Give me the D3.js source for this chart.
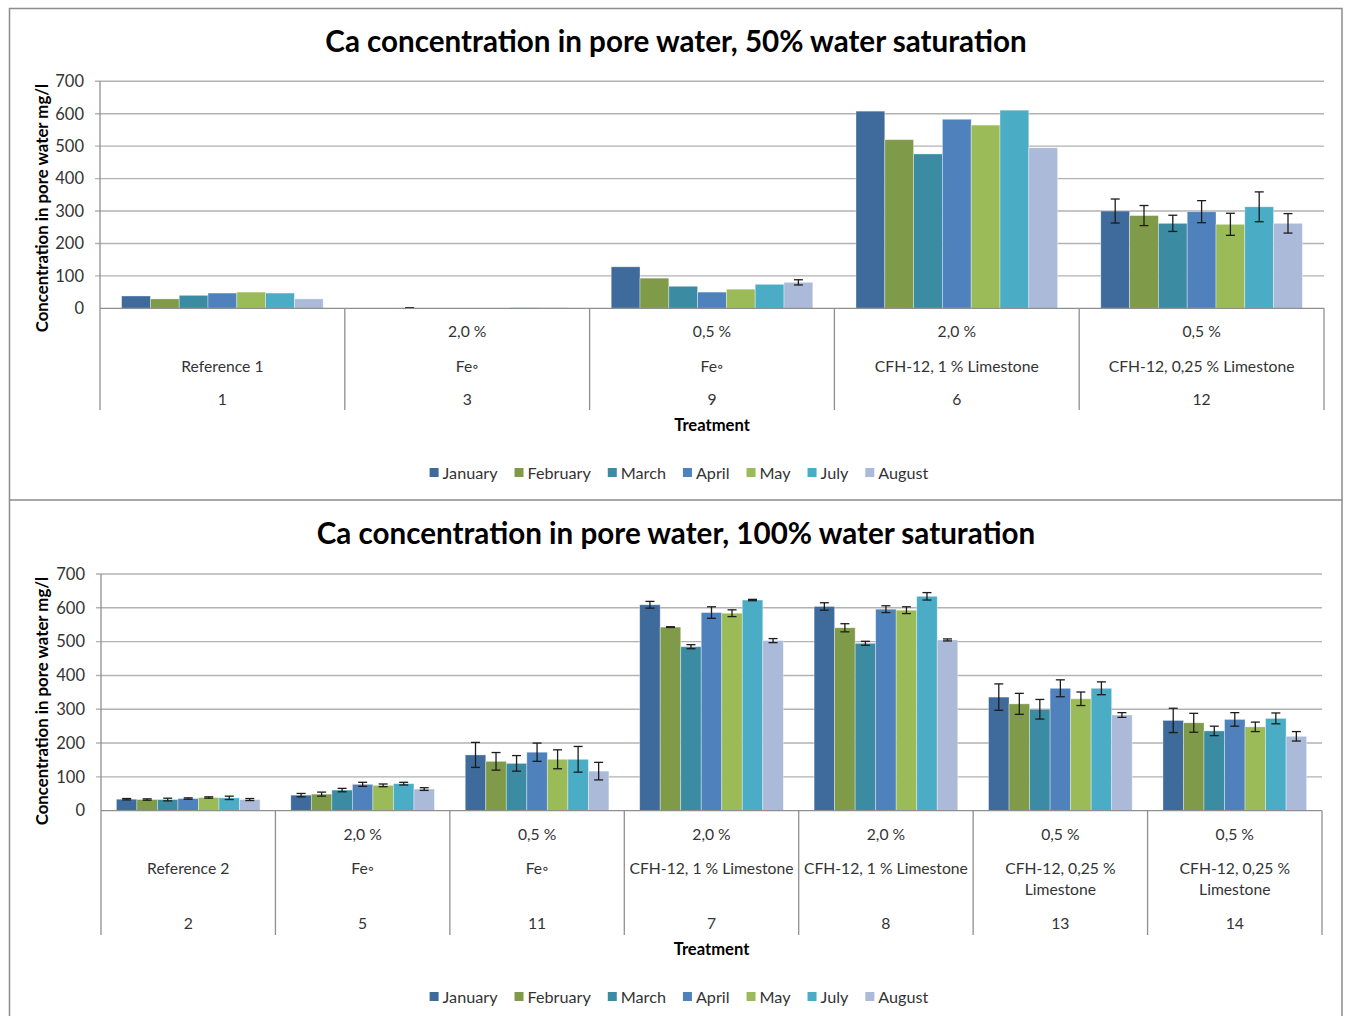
<!DOCTYPE html>
<html>
<head>
<meta charset="utf-8">
<script src="https://cdn.jsdelivr.net/npm/d3@7"></script>
<style>
  body { margin: 0; background: #fff; }
  svg { display: block; }
  text { font-family: Lato, "Open Sans", sans-serif; }
</style>
</head>
<body>
<svg id="chart" width="1348" height="1016"></svg>
<script>
// ---- shared series definitions ----
const months = ["January", "February", "March", "April", "May", "July", "August"];
const monthColors = ["#3f6a9c", "#7f9a48", "#3b8ba2", "#4f81bd", "#9bbb59", "#4bacc6", "#aabad8"];
const yTicks = [0, 100, 200, 300, 400, 500, 600, 700];

// ---- 50 % water saturation ----
const sat50Dose = ["", "2,0 %", "0,5 %", "2,0 %", "0,5 %"];
const sat50Treatment = [["Reference 1"], ["Fe\u25E6"], ["Fe\u25E6"], ["CFH-12, 1 % Limestone"], ["CFH-12, 0,25 % Limestone"]];
const sat50Id = ["1", "3", "9", "6", "12"];
const sat50Jan = [38, 0, 128, 608, 300];
const sat50Feb = [29, 1, 93, 520, 286];
const sat50Mar = [40, 0, 68, 476, 262];
const sat50Apr = [47, 0, 50, 583, 298];
const sat50May = [50, 0, 59, 565, 259];
const sat50Jul = [47, 2, 74, 611, 313];
const sat50Aug = [29, 2, 80, 495, 262];
// standard deviation per bar (null = no error bar)
const sat50JanErr = [null, null, null, null, 37];
const sat50FebErr = [null, 1, null, null, 31];
const sat50MarErr = [null, null, null, null, 25];
const sat50AprErr = [null, null, null, null, 34];
const sat50MayErr = [null, null, null, null, 34];
const sat50JulErr = [null, null, null, null, 46];
const sat50AugErr = [null, null, 8, null, 30];

// ---- 100 % water saturation ----
const sat100Dose = ["", "2,0 %", "0,5 %", "2,0 %", "2,0 %", "0,5 %", "0,5 %"];
const sat100Treatment = [["Reference 2"], ["Fe\u25E6"], ["Fe\u25E6"], ["CFH-12, 1 % Limestone"], ["CFH-12, 1 % Limestone"], ["CFH-12, 0,25 %", "Limestone"], ["CFH-12, 0,25 %", "Limestone"]];
const sat100Id = ["2", "5", "11", "7", "8", "13", "14"];
const sat100Jan = [34, 46, 165, 609, 604, 336, 267];
const sat100Feb = [33, 49, 146, 543, 541, 316, 260];
const sat100Mar = [33, 61, 140, 485, 495, 300, 236];
const sat100Apr = [36, 78, 173, 586, 596, 362, 270];
const sat100May = [39, 75, 152, 584, 593, 331, 248];
const sat100Jul = [38, 80, 152, 623, 634, 362, 273];
const sat100Aug = [33, 64, 117, 503, 505, 283, 220];
const sat100JanErr = [2, 5, 37, 10, 11, 39, 36];
const sat100FebErr = [2, 6, 26, 1, 12, 31, 28];
const sat100MarErr = [4, 5, 23, 6, 6, 29, 14];
const sat100AprErr = [2, 6, 27, 17, 10, 25, 20];
const sat100MayErr = [2, 4, 28, 10, 10, 20, 14];
const sat100JulErr = [5, 4, 38, 2, 11, 19, 16];
const sat100AugErr = [3, 4, 26, 6, 3, 7, 14];

const svg = d3.select("#chart");

// outer frames of the two chart panels
const frame = svg.append("g").attr("fill", "none").attr("stroke", "#8c8c8c").attr("stroke-width", 1.5);
frame.append("rect").attr("x", 9.5).attr("y", 8.5).attr("width", 1332.5).attr("height", 491.5);
frame.append("path").attr("d", "M9.5,500 V1017 M1342,500 V1017");

function drawPanel(cfg) {
  const g = svg.append("g");
  const ids = cfg.ids;
  const x0 = d3.scaleBand().domain(d3.range(ids.length)).range([cfg.left, cfg.right]).paddingInner(0).paddingOuter(0);
  const x1 = d3.scaleBand().domain(months).range([0, x0.bandwidth()]).paddingInner(0).paddingOuter(0.75);
  const y = d3.scaleLinear().domain([0, 700]).range([cfg.zeroY, cfg.topY]);

  // title
  g.append("text")
    .attr("x", cfg.titleX).attr("y", cfg.titleY)
    .attr("text-anchor", "middle")
    .attr("font-size", 29.6).attr("font-weight", 700).attr("fill", "#000")
    .text(cfg.title);

  // horizontal gridlines with short outer ticks
  g.append("g").selectAll("line").data(yTicks.filter(v => v > 0)).join("line")
    .attr("x1", cfg.left - 5).attr("x2", cfg.right)
    .attr("y1", d => y(d)).attr("y2", d => y(d))
    .attr("stroke", "#b2b2b2").attr("stroke-width", 1.4);

  // value axis labels
  const yAxis = g.append("g")
    .attr("transform", `translate(${cfg.left},0)`)
    .call(d3.axisLeft(y).tickValues(yTicks).tickSize(0).tickPadding(16));
  yAxis.select(".domain").remove();
  yAxis.selectAll("text").attr("font-size", 16.5).attr("fill", "#333").attr("font-family", "Lato, sans-serif");

  // value axis title
  g.append("text")
    .attr("transform", `translate(${cfg.yLabelX},${cfg.yLabelY}) rotate(-90)`)
    .attr("text-anchor", "middle")
    .attr("font-size", 16.8).attr("font-weight", 700).attr("fill", "#000")
    .text("Concentration in pore water mg/l");

  // bars
  const groups = g.append("g").selectAll("g").data(ids.map((id, i) => i)).join("g")
    .attr("transform", i => `translate(${x0(i)},0)`);
  groups.selectAll("rect")
    .data(i => months.map((m, k) => ({ m, k, v: cfg.values[k][i] })))
    .join("rect")
    .attr("x", d => x1(d.m)).attr("width", x1.bandwidth())
    .attr("y", d => y(d.v)).attr("height", d => y(0) - y(d.v))
    .attr("fill", d => monthColors[d.k])
    .attr("stroke", "rgba(255,255,255,0.45)").attr("stroke-width", 0.8);

  // error bars
  const errs = [];
  ids.forEach((id, i) => months.forEach((m, k) => {
    const e = cfg.errors[k][i];
    if (e != null) errs.push({ cx: x0(i) + x1(m) + x1.bandwidth() / 2, v: cfg.values[k][i], e });
  }));
  const eb = g.append("g").attr("stroke", "#1c1c1c").attr("stroke-width", 1.3).selectAll("g").data(errs).join("g");
  eb.append("line").attr("x1", d => d.cx).attr("x2", d => d.cx)
    .attr("y1", d => y(d.v + d.e)).attr("y2", d => y(Math.max(0, d.v - d.e)));
  eb.append("line").attr("x1", d => d.cx - 4.5).attr("x2", d => d.cx + 4.5)
    .attr("y1", d => y(d.v + d.e)).attr("y2", d => y(d.v + d.e));
  eb.append("line").attr("x1", d => d.cx - 4.5).attr("x2", d => d.cx + 4.5)
    .attr("y1", d => y(Math.max(0, d.v - d.e))).attr("y2", d => y(Math.max(0, d.v - d.e)));

  // category axis line, left axis line and separators
  const ax = g.append("g").attr("stroke", "#8f8f8f").attr("stroke-width", 1.3);
  ax.append("line").attr("x1", cfg.left).attr("x2", cfg.right).attr("y1", y(0)).attr("y2", y(0));
  ax.append("line").attr("x1", cfg.left).attr("x2", cfg.left).attr("y1", y(700)).attr("y2", y(0));
  const bounds = ids.map((d, i) => x0(i)).concat([cfg.right]);
  ax.selectAll(".sep").data(bounds).join("line").attr("class", "sep")
    .attr("x1", d => d).attr("x2", d => d).attr("y1", y(0)).attr("y2", cfg.sepBottom);

  // multi-level category labels
  const lab = g.append("g").attr("font-size", 15.7).attr("fill", "#333").attr("text-anchor", "middle");
  ids.forEach((id, i) => {
    const cx = x0(i) + x0.bandwidth() / 2;
    lab.append("text").attr("x", cx).attr("y", cfg.doseY).text(cfg.dose[i]);
    cfg.treatment[i].forEach((line, j) => {
      lab.append("text").attr("x", cx).attr("y", cfg.treatY + j * 21).text(line);
    });
    lab.append("text").attr("x", cx).attr("y", cfg.idY).text(id);
  });

  // category axis title
  g.append("text")
    .attr("x", (cfg.left + cfg.right) / 2).attr("y", cfg.axisTitleY)
    .attr("text-anchor", "middle").attr("font-size", 16.6).attr("font-weight", 700).attr("fill", "#000")
    .text("Treatment");

  // legend
  const leg = g.append("g");
  let cursor = 0;
  months.forEach((m, k) => {
    const item = leg.append("g").attr("transform", `translate(${cursor},0)`);
    item.append("rect").attr("x", 0).attr("y", -5).attr("width", 9).attr("height", 9).attr("fill", monthColors[k]);
    const t = item.append("text").attr("x", 13).attr("y", 6).attr("font-size", 16.2).attr("fill", "#333").text(m);
    cursor += 13 + t.node().getComputedTextLength() + 17;
  });
  const legW = cursor - 17;
  leg.attr("transform", `translate(${cfg.legendCX - legW / 2},${cfg.legendY})`);
}

drawPanel({
  title: "Ca concentration in pore water, 50% water saturation",
  titleX: 676, titleY: 52,
  left: 100, right: 1324, topY: 81.3, zeroY: 308.3,
  yLabelX: 48, yLabelY: 208,
  ids: sat50Id, dose: sat50Dose, treatment: sat50Treatment,
  values: [sat50Jan, sat50Feb, sat50Mar, sat50Apr, sat50May, sat50Jul, sat50Aug],
  errors: [sat50JanErr, sat50FebErr, sat50MarErr, sat50AprErr, sat50MayErr, sat50JulErr, sat50AugErr],
  sepBottom: 410, doseY: 337, treatY: 372, idY: 405,
  axisTitleY: 431, legendCX: 679, legendY: 473
});

drawPanel({
  title: "Ca concentration in pore water, 100% water saturation",
  titleX: 676, titleY: 544,
  left: 101, right: 1322, topY: 574, zeroY: 810.7,
  yLabelX: 48, yLabelY: 701,
  ids: sat100Id, dose: sat100Dose, treatment: sat100Treatment,
  values: [sat100Jan, sat100Feb, sat100Mar, sat100Apr, sat100May, sat100Jul, sat100Aug],
  errors: [sat100JanErr, sat100FebErr, sat100MarErr, sat100AprErr, sat100MayErr, sat100JulErr, sat100AugErr],
  sepBottom: 935, doseY: 840, treatY: 874, idY: 929,
  axisTitleY: 955, legendCX: 679, legendY: 997
});
</script>
</body>
</html>
